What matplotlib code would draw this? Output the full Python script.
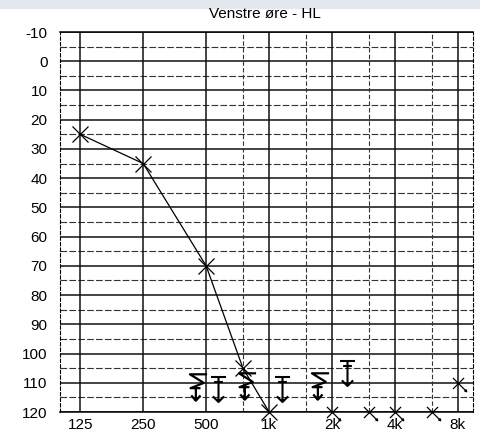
import numpy as np
import matplotlib
matplotlib.use('Agg')
import matplotlib.pyplot as plt
from matplotlib.path import Path
from matplotlib.patches import Rectangle

plt.rcParams['font.family'] = ['Liberation Sans', 'DejaVu Sans']
plt.rcParams['axes.unicode_minus'] = False

# air conduction, left ear (X), connected part
air_freq = [125, 250, 500, 750, 1000]
air_db = [25, 35, 70, 105, 120]
# air conduction, no response (X with arrow)
nr_freq = [2000, 3000, 4000, 6000, 8000]
nr_db = [120, 120, 120, 120, 110]
# masked bone conduction, no response (sigma shaped symbol with arrow)
bone_s_freq = [458, 780, 1754]
bone_s_db = [111.5, 111, 111]
# bone conduction T-shaped symbol with arrow
bone_t_freq = [571, 1154, 2360]
bone_t_db = [112, 112, 106.5]

xticks = [125, 250, 500, 1000, 2000, 4000, 8000]
xticklabels = ['125', '250', '500', '1k', '2k', '4k', '8k']
yticks = list(range(-10, 121, 10))

M, L = Path.MOVETO, Path.LINETO

# X with small tail to lower right
xnr_verts = [(-1, -1), (1, 1), (-1, 1), (1.5, -1.5), (1.5, -1.5), (1.05, -1.35), (1.5, -1.5), (1.35, -1.05)]
xnr_codes = [M, L, M, L, M, L, M, L]
x_nr = Path(xnr_verts, xnr_codes)

# sigma-like bracket with down arrow
sig_verts = [(0.65, 1), (-0.65, 1), (0.4, 0.35), (-0.6, -0.05), (0.15, -0.05),
             (-0.2, 0.05), (-0.2, -1),
             (-0.55, -0.6), (-0.2, -1), (0.15, -0.6)]
sig_codes = [M, L, L, L, L, M, L, M, L, L]
sig = Path(sig_verts, sig_codes)

# T-like symbol with down arrow
t_verts = [(-0.6, 1), (0.6, 1), (-0.35, 0.6), (0.35, 0.6), (0, 1), (0, -1),
           (-0.45, -0.55), (0, -1), (0.45, -0.55)]
t_codes = [M, L, M, L, M, L, M, L, L]
tsym = Path(t_verts, t_codes)

fig = plt.figure(figsize=(4.81, 4.38), dpi=100)
fig.patches.append(Rectangle((0, 0.982), 1, 0.018, transform=fig.transFigure,
                             color='#e4e8ee', zorder=0))
ax = fig.add_axes([60 / 481, 1 - 412 / 438, 413 / 481, 380 / 438])

ax.set_xscale('log', base=2)
ax.set_xlim(100, 9450)
ax.set_ylim(120, -10)

# grid
for y in range(-10, 121, 5):
    if y % 10 == 0:
        ax.axhline(y, color='#111111', lw=1.1, zorder=1)
    else:
        ax.axhline(y, color='#333333', lw=0.8, ls=(0, (6, 2)), zorder=1)
for f in xticks:
    ax.axvline(f, color='#111111', lw=1.1, zorder=1)
for f in [750, 1500, 3000, 6000]:
    ax.axvline(f, color='#333333', lw=0.8, ls=(0, (4, 2)), zorder=1)

for side in ['top', 'bottom']:
    ax.spines[side].set_linewidth(1.1)
for side in ['left', 'right']:
    ax.spines[side].set_linestyle((0, (3, 2)))
    ax.spines[side].set_linewidth(0.8)

ax.plot(air_freq, air_db, color='black', lw=0.9, marker='x', ms=11.5,
        mew=0.9, zorder=3, clip_on=False)
ax.plot(nr_freq, nr_db, ls='none', color='black', marker=x_nr, ms=12,
        mew=0.9, mfc='none', zorder=3, clip_on=False)
ax.plot(bone_s_freq, bone_s_db, ls='none', color='black', marker=sig, ms=19,
        mew=1.6, mfc='none', zorder=3)
ax.plot(bone_t_freq, bone_t_db, ls='none', color='black', marker=tsym, ms=18,
        mew=1.5, mfc='none', zorder=3)

ax.set_xticks(xticks)
ax.set_xticklabels(xticklabels)
ax.xaxis.set_minor_locator(matplotlib.ticker.NullLocator())
ax.set_yticks(yticks)
ax.tick_params(axis='both', length=0, labelsize=11, colors='black')
ax.tick_params(axis='y', pad=9)
ax.tick_params(axis='x', pad=4)

fig.text(0.55, 0.967, 'Venstre øre - HL', ha='center', va='center', fontsize=11)

fig.savefig('out.png', dpi=100)
